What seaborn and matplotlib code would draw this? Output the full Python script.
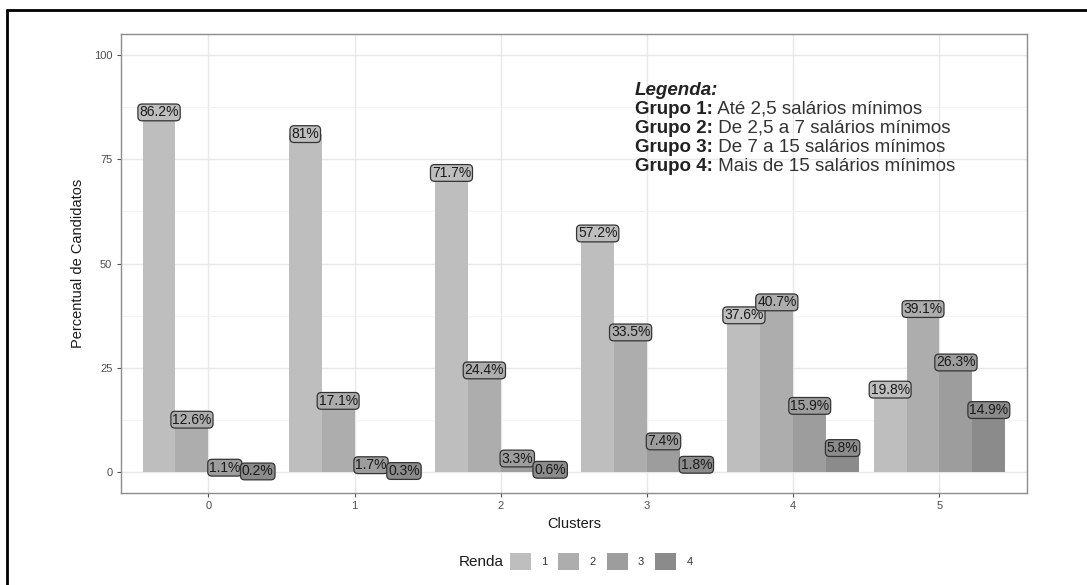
import matplotlib.pyplot as plt
import seaborn as sns
import pandas as pd
from matplotlib.patches import Patch
from matplotlib.lines import Line2D

clusters = ['0', '1', '2', '3', '4', '5']
renda = ['1', '2', '3', '4']
grupo1 = [86.2, 81.0, 71.7, 57.2, 37.6, 19.8]
grupo2 = [12.6, 17.1, 24.4, 33.5, 40.7, 39.1]
grupo3 = [1.1, 1.7, 3.3, 7.4, 15.9, 26.3]
grupo4 = [0.2, 0.3, 0.6, 1.8, 5.8, 14.9]
legenda = [('Grupo 1:', 'Até 2,5 salários mínimos'),
           ('Grupo 2:', 'De 2,5 a 7 salários mínimos'),
           ('Grupo 3:', 'De 7 a 15 salários mínimos'),
           ('Grupo 4:', 'Mais de 15 salários mínimos')]

cores = ['#bebebe', '#adadad', '#9d9d9d', '#8b8b8b']

rows = []
for g, vals in zip(renda, [grupo1, grupo2, grupo3, grupo4]):
    for c, v in zip(clusters, vals):
        rows.append({'Clusters': c, 'Percentual': v, 'Renda': g})
df = pd.DataFrame(rows)

sns.set_theme(style='whitegrid')
plt.rcParams['font.family'] = ['Liberation Sans', 'DejaVu Sans']

fig = plt.figure(figsize=(10.87, 5.85), dpi=100)
ax = fig.add_axes([0.111, 0.157, 0.834, 0.785])

sns.barplot(data=df, x='Clusters', y='Percentual', hue='Renda', palette=cores,
            saturation=1, width=0.9, gap=0, ax=ax, legend=False, errorbar=None,
            linewidth=0, edgecolor='none')

# value labels (geom_label style)
for cont, vals in zip(ax.containers, [grupo1, grupo2, grupo3, grupo4]):
    for bar, v in zip(cont, vals):
        ax.text(bar.get_x() + bar.get_width() / 2, v, f'{v:g}%',
                ha='center', va='center', fontsize=10, color='#1a1a1a',
                bbox=dict(boxstyle='round,pad=0.1,rounding_size=0.3',
                          fc=bar.get_facecolor(), ec='#333333', lw=0.9))

ax.set_xlim(-0.6, 5.6)
ax.set_ylim(-5, 105)
ax.set_yticks([0, 25, 50, 75, 100])
ax.set_yticks([12.5, 37.5, 62.5, 87.5], minor=True)
ax.set_facecolor('white')
ax.grid(True, which='major', color='#e8e8e8', lw=1.0)
ax.grid(True, which='minor', axis='y', color='#f2f2f2', lw=0.6)
ax.set_axisbelow(True)
for s in ax.spines.values():
    s.set_color('#8c8c8c')
    s.set_linewidth(1.0)
ax.tick_params(axis='both', which='major', length=3, width=0.8, color='#555555',
               labelsize=8, labelcolor='#4d4d4d', pad=3, bottom=True, left=True)
ax.tick_params(axis='y', which='minor', length=0)
ax.set_xlabel('Clusters', fontsize=10.5, color='#1a1a1a', labelpad=4)
ax.set_ylabel('Percentual de Candidatos', fontsize=10.5, color='#1a1a1a', labelpad=6)

# text legend inside the panel
ax.text(0.567, 0.867, 'Legenda:', transform=ax.transAxes, fontsize=13.5,
        fontweight='bold', fontstyle='italic', color='#222222', va='baseline')
y0 = 0.826
for i, (b, t) in enumerate(legenda):
    tb = ax.text(0.567, y0 - i * 0.0414, b, transform=ax.transAxes, fontsize=13.5,
                 fontweight='bold', color='#222222', va='baseline')
    ax.annotate(' ' + t, xy=(1, 0), xycoords=tb, fontsize=13.5, color='#333333',
                va='bottom', ha='left')

# bottom legend
fig.text(0.443, 0.04, 'Renda', fontsize=11, color='#1a1a1a', va='center', ha='center')
handles = [Patch(facecolor=c, edgecolor='none') for c in cores]
fig.legend(handles, renda, loc='center', bbox_to_anchor=(0.553, 0.04), ncol=4,
           frameon=False, fontsize=8, handlelength=1.9, handleheight=1.9,
           handletextpad=0.9, columnspacing=1.0, labelcolor='#333333')

# screenshot border (top and left)
fig.add_artist(Line2D([0.0064, 1.0], [0.983, 0.983], color='black', lw=2,
                      transform=fig.transFigure))
fig.add_artist(Line2D([0.0064, 0.0064], [0.0, 0.983], color='black', lw=2,
                      transform=fig.transFigure))

fig.savefig('out.png', dpi=100)
